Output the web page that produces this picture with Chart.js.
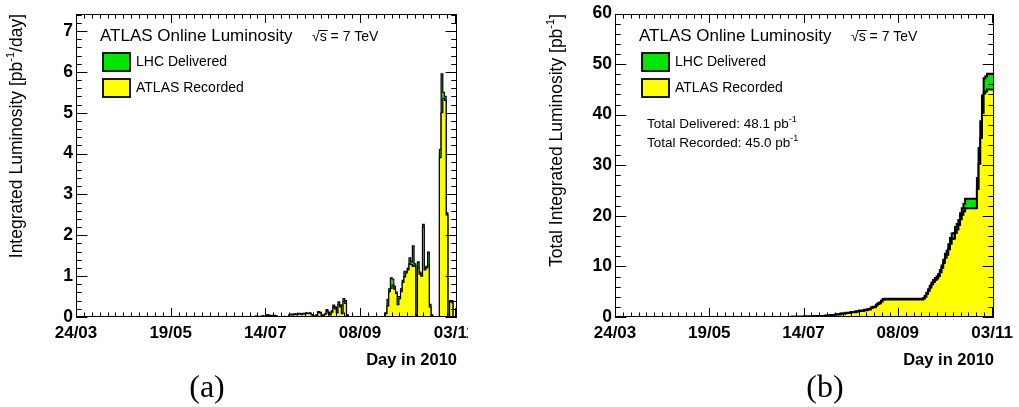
<!DOCTYPE html>
<html><head><meta charset="utf-8">
<script src="https://cdn.jsdelivr.net/npm/chart.js@4.4.0/dist/chart.umd.min.js"></script>
<style>
html,body{margin:0;padding:0;background:#fff;}
#wrap{position:relative;width:1019px;height:407px;overflow:hidden;background:#fff;}
#pa{position:absolute;left:0;top:0;width:468px;height:407px;overflow:hidden;}
#pb{position:absolute;left:510px;top:0;width:509px;height:407px;}
canvas{display:block;}
</style></head><body>
<div id="wrap">
  <div id="pa"><canvas id="ca" width="510" height="407"></canvas></div>
  <div id="pb"><canvas id="cb" width="509" height="407"></canvas></div>
</div>
<script>
// ---------- data (day index counted from 24/03/2010) ----------
const xTickDays   = [0, 56, 112, 168, 224];
const xTickLabels = ['24/03', '19/05', '14/07', '08/09', '03/11'];
const xMaxDay = 225.4;

const yTicksA = [0, 1, 2, 3, 4, 5, 6, 7];
const yTicksB = [0, 10, 20, 30, 40, 50, 60];

// daily luminosity (pb^-1/day), panel (a)
const dailyDays = [100,104,106,108,110,112,113,114,115,116,117,118,119,121,123,
  126,127,128,129,130,131,132,133,134,135,136,137,138,139,140,141,142,143,144,145,
  146,147,148,149,150,151,152,153,154,155,156,157,158,159,160,
  183,184,185,186,187,188,189,190,191,192,193,194,195,196,197,198,199,200,201,202,
  203,204,205,206,207,208,209,210,
  215,216,217,218,219,221,222];
const dailyDelivered = [0.005,0.01,0.02,0.015,0.03,0.02,0.06,0.03,0.04,0.02,0.04,0.03,0.01,0.01,0.015,
  0.06,0.07,0.06,0.08,0.07,0.08,0.09,0.07,0.09,0.08,0.10,0.09,0.10,0.06,0.03,0.02,0.05,0.13,0.12,0.05,
  0.04,0.08,0.18,0.12,0.06,0.15,0.29,0.25,0.12,0.37,0.30,0.10,0.45,0.40,0.05,
  0.10,0.43,0.69,0.96,0.93,0.75,0.61,0.50,0.50,0.69,0.90,1.12,1.12,1.20,1.45,1.35,1.74,1.30,0.05,1.35,
  1.10,1.06,2.27,1.20,1.24,1.59,0.31,0.05,
  4.10,5.95,5.50,5.40,2.55,0.40,0.40];
const dailyRecorded = [0.004,0.008,0.015,0.012,0.025,0.018,0.05,0.025,0.035,0.018,0.035,0.025,0.008,0.008,0.012,
  0.05,0.06,0.05,0.07,0.06,0.07,0.08,0.06,0.08,0.07,0.09,0.08,0.09,0.05,0.025,0.015,0.04,0.11,0.10,0.04,
  0.03,0.07,0.15,0.10,0.05,0.12,0.24,0.20,0.10,0.30,0.25,0.08,0.38,0.33,0.04,
  0.08,0.27,0.62,0.70,0.78,0.68,0.58,0.30,0.45,0.62,0.85,0.98,1.08,1.15,1.30,1.28,1.24,1.25,0.03,1.20,
  1.05,1.00,2.20,1.15,1.20,1.26,0.25,0.04,
  3.90,5.00,5.35,5.30,2.50,0.38,0.35];

// cumulative luminosity (pb^-1), panel (b)
const cumDays = [0,60,90,105,112,118,125,128,131,134,137,140,143,145,148,150,152,153,155,156,157,158,159,160,
  183,184,185,186,187,188,189,190,191,192,193,194,195,196,197,198,199,200,201,202,203,204,205,206,207,208,
  215,216,217,218,219,220,221,225.4];
const cumDelivered = [0,0.01,0.02,0.05,0.12,0.2,0.3,0.42,0.55,0.7,0.85,1.0,1.15,1.3,1.45,1.6,1.9,2.05,2.4,2.7,2.85,3.2,3.55,3.6,
  3.75,4.2,4.8,5.5,6.2,6.8,7.3,7.7,8.0,8.5,9.3,10.2,11.3,12.5,13.1,14.4,15.6,16.5,16.6,17.8,18.4,19.2,20.5,21.5,22.4,23.4,
  27.5,33.4,38.7,43.8,47.2,47.6,48.1,48.1];
const cumRecorded = [0,0.01,0.02,0.05,0.11,0.18,0.27,0.38,0.5,0.64,0.78,0.92,1.06,1.2,1.35,1.5,1.78,1.92,2.25,2.55,2.7,3.05,3.4,3.45,
  3.6,4.0,4.55,5.2,5.85,6.45,6.9,7.3,7.6,8.1,8.85,9.75,10.7,11.7,12.3,13.4,14.5,15.4,15.5,16.6,17.3,18.2,19.3,20.2,20.9,21.5,
  25.3,30.3,35.4,40.4,44.2,44.6,45.0,45.0];

const totalDelivered = '48.1';
const totalRecorded = '45.0';

// ---------- styling ----------
const GREEN = '#00e600';
const YELLOW = '#ffff00';
const SANS = '"Liberation Sans", Arial, Helvetica, sans-serif';

function dailySeries(vals) {
  const full = new Array(225).fill(0);
  dailyDays.forEach((d, i) => { full[d] = vals[i]; });
  const pts = full.map((v, d) => ({x: d, y: v}));
  pts.push({x: xMaxDay, y: 0});
  return pts;
}
function cumSeries(vals) {
  return cumDays.map((d, i) => ({x: d, y: vals[i]}));
}

function richWidth(ctx, parts) {
  let w = 0;
  parts.forEach(p => { ctx.font = p.size + 'px ' + SANS; w += ctx.measureText(p.t).width; });
  return w;
}
function drawRich(ctx, parts, x, y) { // left aligned, baseline alphabetic
  let cx = x;
  parts.forEach(p => {
    ctx.font = p.size + 'px ' + SANS;
    ctx.fillText(p.t, cx, y - (p.rise || 0));
    cx += ctx.measureText(p.t).width;
  });
}

const decor = {
  id: 'decor',
  afterDatasetsDraw(chart, args, o) {
    const {ctx, chartArea: ca, scales: {x, y}} = chart;
    ctx.save();
    ctx.strokeStyle = '#000';
    ctx.fillStyle = '#000';
    ctx.lineWidth = 1;
    const L = Math.round(ca.left), R = Math.round(ca.right), T = Math.round(ca.top), B = Math.round(ca.bottom);
    ctx.strokeRect(L + 0.5, T + 0.5, R - L - 1, B - T - 1);
    const W = R - L, H = B - T;
    const xMaj = 0.03 * H, yMaj = 0.03 * W;
    ctx.beginPath();
    const xStep = 56 / o.xMinorPerMajor;
    for (let k = 0; k * xStep <= x.max + 1e-6; k++) {
      const px = Math.round(x.getPixelForValue(k * xStep)) + 0.5;
      const len = (k % o.xMinorPerMajor === 0) ? xMaj : xMaj / 2;
      ctx.moveTo(px, B); ctx.lineTo(px, B - len);
      ctx.moveTo(px, T); ctx.lineTo(px, T + len);
    }
    for (let k = 0; k * o.yMinor <= y.max + 1e-6; k++) {
      const py = Math.round(y.getPixelForValue(k * o.yMinor)) + 0.5;
      const len = (k % 5 === 0) ? yMaj : yMaj / 2;
      ctx.moveTo(L, py); ctx.lineTo(L + len, py);
      ctx.moveTo(R, py); ctx.lineTo(R - len, py);
    }
    ctx.stroke();

    // header
    ctx.textBaseline = 'alphabetic';
    ctx.textAlign = 'left';
    ctx.font = '17px ' + SANS;
    ctx.fillText('ATLAS Online Luminosity', L + 24, 41);
    ctx.font = '14px ' + SANS;
    const sx = L + 236;
    ctx.fillText('\u221As = 7 TeV', sx, 41);
    const wr = ctx.measureText('\u221A').width, ws = ctx.measureText('s').width;
    ctx.beginPath(); ctx.lineWidth = 1;
    ctx.moveTo(sx + wr - 1, 30.5); ctx.lineTo(sx + wr + ws + 1, 30.5); ctx.stroke();

    // legend
    const boxes = [[GREEN, 'LHC Delivered', 53], [YELLOW, 'ATLAS Recorded', 79]];
    boxes.forEach(([c, t, by]) => {
      ctx.fillStyle = c;
      ctx.fillRect(L + 27, by, 27, 18);
      ctx.lineWidth = 1.8;
      ctx.strokeRect(L + 27, by, 27, 18);
      ctx.fillStyle = '#000';
      ctx.font = '14px ' + SANS;
      ctx.textBaseline = 'middle';
      ctx.fillText(t, L + 60, by + 9.5);
    });
    ctx.textBaseline = 'alphabetic';

    if (o.totals) {
      drawRich(ctx, [{t: 'Total Delivered: ' + totalDelivered + ' pb', size: 13.5}, {t: '-1', size: 9, rise: 6}], L + 32, 128);
      drawRich(ctx, [{t: 'Total Recorded: ' + totalRecorded + ' pb', size: 13.5}, {t: '-1', size: 9, rise: 6}], L + 32, 147);
    }

    // x title
    ctx.font = 'bold 16.5px ' + SANS;
    ctx.textAlign = 'right';
    ctx.fillText('Day in 2010', R, 365);

    // y title (rotated)
    ctx.save();
    ctx.translate(o.yTitleX, T);
    ctx.rotate(-Math.PI / 2);
    ctx.textAlign = 'left';
    ctx.textBaseline = 'middle';
    const w = richWidth(ctx, o.yTitle);
    let cx = -w;
    o.yTitle.forEach(p => {
      ctx.font = p.size + 'px ' + SANS;
      ctx.fillText(p.t, cx, -(p.rise || 0));
      cx += ctx.measureText(p.t).width;
    });
    ctx.restore();

    // sub-figure label
    ctx.font = '32px "Liberation Serif", "Times New Roman", serif';
    ctx.textAlign = 'center';
    ctx.textBaseline = 'middle';
    ctx.fillText(o.label, o.labelX, 389);
    ctx.restore();
  }
};

function makeChart(id, datasets, cfg) {
  return new Chart(document.getElementById(id), {
    type: 'line',
    data: {datasets},
    options: {
      responsive: false,
      animation: false,
      events: [],
      layout: {padding: {left: 0, right: cfg.padRight, top: 13, bottom: 0}},
      plugins: {legend: {display: false}, tooltip: {enabled: false}, decor: cfg.decor},
      scales: {
        x: {
          type: 'linear', min: 0, max: xMaxDay,
          afterBuildTicks: s => { s.ticks = xTickDays.map(v => ({value: v})); },
          afterFit: s => { s.height = 90; },
          grid: {display: false, drawTicks: false},
          border: {display: false},
          ticks: {
            autoSkip: false, maxRotation: 0, padding: 6, color: '#000',
            font: {family: SANS, size: 17, weight: 'bold'},
            callback: v => xTickLabels[xTickDays.indexOf(v)]
          }
        },
        y: {
          type: 'linear', min: 0, max: cfg.yMax,
          afterBuildTicks: s => { s.ticks = cfg.yTicks.map(v => ({value: v})); },
          afterFit: s => { s.width = cfg.yWidth; },
          grid: {display: false, drawTicks: false},
          border: {display: false},
          ticks: {padding: 3, color: '#000', font: {family: SANS, size: 17.5, weight: 'bold'}}
        }
      }
    },
    plugins: [decor]
  });
}

makeChart('ca', [
  {label: 'ATLAS Recorded', data: dailySeries(dailyRecorded), stepped: 'before', fill: 'origin',
   backgroundColor: YELLOW, borderColor: '#000', borderWidth: 1.2, pointRadius: 0, order: 0},
  {label: 'LHC Delivered', data: dailySeries(dailyDelivered), stepped: 'before', fill: 'origin',
   backgroundColor: GREEN, borderColor: '#000', borderWidth: 1.2, pointRadius: 0, order: 1}
], {
  padRight: 53, yWidth: 76, yMax: 7.43, yTicks: yTicksA,
  decor: {xMinorPerMajor: 12, yMinor: 0.2, totals: false, label: '(a)', labelX: 207, yTitleX: 17,
    yTitle: [{t: 'Integrated Luminosity [pb', size: 17.5}, {t: '-1', size: 11, rise: 6}, {t: '/day]', size: 17.5}]}
});

makeChart('cb', [
  {label: 'ATLAS Recorded', data: cumSeries(cumRecorded), stepped: 'before', fill: 'origin',
   backgroundColor: YELLOW, borderColor: '#000', borderWidth: 2, pointRadius: 0, order: 0},
  {label: 'LHC Delivered', data: cumSeries(cumDelivered), stepped: 'before', fill: 'origin',
   backgroundColor: GREEN, borderColor: '#000', borderWidth: 2, pointRadius: 0, order: 1}
], {
  padRight: 23, yWidth: 105, yMax: 60, yTicks: yTicksB,
  decor: {xMinorPerMajor: 12, yMinor: 2, totals: true, label: '(b)', labelX: 315, yTitleX: 47,
    yTitle: [{t: 'Total Integrated Luminosity [pb', size: 17.5}, {t: '-1', size: 11, rise: 6}, {t: ']', size: 17.5}]}
});
</script>
</body></html>
